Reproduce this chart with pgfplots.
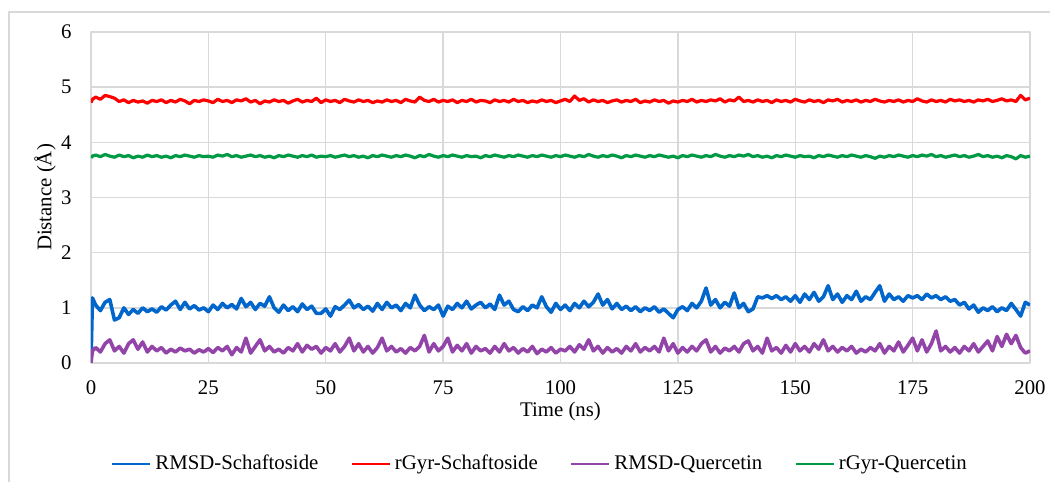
\documentclass[border=0pt]{standalone}
\usepackage{pgfplots}
\pgfplotsset{compat=1.18}
\usepackage{pgfplotstable}
\usepackage{fontspec}
\setmainfont{Liberation Serif}
\definecolor{cBlue}{RGB}{0,102,204}
\definecolor{cRed}{RGB}{255,0,0}
\definecolor{cPurple}{RGB}{146,68,168}
\definecolor{cGreen}{RGB}{0,153,68}
\definecolor{cGrid}{RGB}{217,217,217}
\pgfplotstableread{
t B R P G
0 0.00 4.72 0.00 3.72
0.3 1.18 4.78 0.22 3.75
1 1.05 4.82 0.28 3.77
2 0.95 4.78 0.20 3.74
3 1.10 4.85 0.35 3.78
4 1.15 4.83 0.42 3.75
5 0.78 4.80 0.22 3.73
6 0.82 4.74 0.30 3.77
7 1.00 4.77 0.18 3.74
8 0.88 4.72 0.35 3.76
9 0.97 4.76 0.42 3.72
10 0.90 4.73 0.25 3.75
11 1.00 4.75 0.38 3.73
12 0.93 4.71 0.20 3.77
13 0.98 4.76 0.30 3.74
14 0.92 4.74 0.22 3.76
15 1.02 4.77 0.28 3.73
16 0.96 4.72 0.18 3.75
17 1.05 4.76 0.25 3.72
18 1.12 4.73 0.20 3.76
19 0.97 4.78 0.27 3.74
20 1.10 4.75 0.22 3.77
21 0.98 4.70 0.25 3.75
22 1.04 4.76 0.18 3.73
23 0.96 4.74 0.24 3.76
24 1.00 4.77 0.20 3.74
25 0.93 4.75 0.26 3.75
26 1.05 4.72 0.19 3.73
27 0.97 4.78 0.28 3.77
28 1.08 4.74 0.22 3.75
29 1.00 4.76 0.30 3.78
30 1.06 4.72 0.15 3.74
31 0.98 4.77 0.28 3.76
32 1.17 4.75 0.20 3.73
33 1.02 4.79 0.45 3.75
34 1.10 4.73 0.18 3.77
35 0.97 4.76 0.30 3.74
36 1.08 4.70 0.42 3.76
37 1.03 4.75 0.22 3.73
38 1.20 4.73 0.30 3.75
39 1.00 4.77 0.20 3.72
40 0.92 4.74 0.25 3.76
41 1.05 4.76 0.18 3.74
42 0.95 4.71 0.28 3.77
43 1.02 4.75 0.22 3.75
44 0.93 4.78 0.35 3.73
45 1.07 4.73 0.20 3.76
46 0.97 4.76 0.32 3.74
47 1.03 4.74 0.25 3.77
48 0.90 4.80 0.30 3.73
49 0.90 4.72 0.18 3.75
50 0.98 4.77 0.28 3.74
51 0.85 4.74 0.22 3.76
52 1.02 4.76 0.35 3.73
53 0.97 4.72 0.20 3.75
54 1.05 4.78 0.30 3.77
55 1.14 4.75 0.45 3.74
56 1.00 4.73 0.22 3.76
57 1.06 4.77 0.35 3.73
58 0.97 4.74 0.20 3.75
59 1.03 4.76 0.30 3.72
60 0.94 4.72 0.18 3.76
61 1.08 4.75 0.28 3.74
62 0.97 4.73 0.45 3.77
63 1.10 4.77 0.22 3.75
64 1.00 4.74 0.30 3.73
65 1.05 4.76 0.20 3.76
66 0.95 4.72 0.26 3.74
67 1.08 4.78 0.18 3.77
68 1.00 4.75 0.28 3.75
69 1.23 4.73 0.22 3.72
70 1.05 4.82 0.30 3.76
71 0.95 4.76 0.50 3.74
72 1.02 4.74 0.20 3.78
73 0.97 4.78 0.35 3.75
74 1.05 4.73 0.22 3.73
75 0.85 4.76 0.30 3.76
76 1.03 4.74 0.45 3.74
77 0.97 4.77 0.20 3.77
78 1.08 4.72 0.32 3.75
79 1.00 4.76 0.22 3.73
80 1.12 4.74 0.35 3.76
81 0.98 4.78 0.18 3.74
82 1.05 4.73 0.30 3.75
83 1.10 4.76 0.22 3.72
84 1.00 4.75 0.26 3.76
85 1.07 4.72 0.18 3.74
86 0.97 4.77 0.30 3.77
87 1.23 4.74 0.20 3.75
88 1.05 4.76 0.35 3.73
89 1.12 4.73 0.22 3.76
90 0.97 4.78 0.28 3.74
91 0.93 4.74 0.18 3.77
92 1.02 4.76 0.26 3.75
93 0.95 4.72 0.20 3.73
94 1.05 4.75 0.30 3.76
95 1.00 4.73 0.17 3.74
96 1.20 4.77 0.25 3.77
97 1.02 4.74 0.20 3.75
98 0.92 4.76 0.28 3.73
99 1.08 4.72 0.18 3.76
100 0.97 4.75 0.25 3.74
101 1.05 4.78 0.22 3.77
102 0.95 4.74 0.30 3.75
103 1.08 4.84 0.20 3.73
104 1.00 4.76 0.33 3.76
105 1.12 4.79 0.25 3.74
106 1.02 4.73 0.42 3.78
107 1.10 4.77 0.22 3.75
108 1.25 4.74 0.30 3.73
109 1.05 4.76 0.18 3.76
110 1.15 4.72 0.28 3.74
111 0.98 4.75 0.20 3.77
112 1.08 4.77 0.26 3.75
113 0.97 4.73 0.18 3.72
114 1.03 4.76 0.30 3.76
115 0.95 4.74 0.22 3.74
116 1.02 4.78 0.35 3.77
117 0.93 4.72 0.20 3.75
118 1.00 4.75 0.28 3.73
119 0.95 4.73 0.22 3.76
120 1.02 4.77 0.30 3.74
121 0.92 4.74 0.20 3.77
122 0.98 4.76 0.45 3.75
123 0.90 4.71 0.22 3.73
124 0.82 4.75 0.35 3.75
125 0.97 4.73 0.18 3.72
126 1.02 4.76 0.28 3.76
127 0.95 4.74 0.20 3.74
128 1.08 4.78 0.30 3.77
129 1.00 4.73 0.22 3.75
130 1.12 4.76 0.35 3.73
131 1.36 4.74 0.42 3.76
132 1.05 4.77 0.20 3.74
133 1.15 4.75 0.30 3.78
134 1.00 4.79 0.18 3.75
135 1.10 4.73 0.27 3.73
136 1.03 4.77 0.22 3.76
137 1.27 4.75 0.30 3.74
138 1.00 4.82 0.20 3.77
139 1.08 4.74 0.35 3.75
140 0.93 4.76 0.40 3.78
141 0.98 4.73 0.22 3.74
142 1.20 4.77 0.30 3.76
143 1.18 4.74 0.18 3.73
144 1.22 4.76 0.45 3.75
145 1.17 4.72 0.22 3.72
146 1.22 4.77 0.28 3.76
147 1.15 4.74 0.18 3.74
148 1.20 4.76 0.32 3.77
149 1.12 4.73 0.20 3.75
150 1.22 4.78 0.35 3.73
151 1.10 4.75 0.22 3.76
152 1.25 4.73 0.30 3.74
153 1.15 4.77 0.20 3.75
154 1.28 4.74 0.35 3.72
155 1.12 4.76 0.25 3.76
156 1.20 4.72 0.42 3.74
157 1.40 4.77 0.22 3.77
158 1.15 4.75 0.30 3.75
159 1.25 4.78 0.20 3.73
160 1.10 4.73 0.28 3.76
161 1.22 4.76 0.22 3.74
162 1.15 4.74 0.30 3.77
163 1.30 4.77 0.18 3.75
164 1.12 4.73 0.25 3.73
165 1.20 4.76 0.20 3.76
166 1.15 4.74 0.28 3.74
167 1.28 4.78 0.22 3.71
168 1.40 4.75 0.35 3.75
169 1.12 4.73 0.18 3.73
170 1.25 4.76 0.30 3.76
171 1.15 4.74 0.22 3.74
172 1.20 4.77 0.38 3.77
173 1.12 4.73 0.20 3.75
174 1.22 4.76 0.32 3.73
175 1.18 4.74 0.45 3.76
176 1.22 4.79 0.22 3.74
177 1.15 4.75 0.42 3.77
178 1.25 4.73 0.20 3.75
179 1.18 4.77 0.35 3.78
180 1.22 4.74 0.58 3.74
181 1.15 4.76 0.22 3.76
182 1.20 4.73 0.30 3.73
183 1.12 4.78 0.20 3.75
184 1.15 4.75 0.28 3.77
185 1.05 4.77 0.18 3.74
186 1.10 4.74 0.30 3.76
187 0.98 4.76 0.22 3.73
188 1.05 4.73 0.35 3.75
189 0.92 4.77 0.20 3.78
190 1.00 4.75 0.30 3.74
191 0.95 4.78 0.40 3.76
192 1.02 4.74 0.22 3.73
193 0.93 4.76 0.48 3.75
194 1.00 4.79 0.30 3.72
195 0.95 4.75 0.52 3.76
196 1.08 4.77 0.35 3.74
197 0.97 4.74 0.50 3.70
198 0.85 4.85 0.28 3.76
199 1.10 4.77 0.18 3.73
200 1.05 4.80 0.22 3.75
}\datatable
\begin{document}
\fontsize{10.4pt}{12pt}\selectfont
\begin{tikzpicture}
\useasboundingbox (0,0) rectangle (525pt,241pt);
\draw[cGrid, line width=0.7pt] (4.5pt,-2pt) -- (4.5pt,235pt) -- (527pt,235pt);
\begin{axis}[
  at={(45.5pt,59.5pt)}, anchor=south west,
  scale only axis, width=469.5pt, height=165.5pt,
  xmin=0, xmax=200, ymin=0, ymax=6,
  xtick={0,25,...,200}, ytick={0,1,...,6},
  grid=major, major grid style={cGrid, line width=0.7pt},
  axis line style={cGrid, line width=0.7pt},
  major tick length=0pt,
  /pgf/number format/assume math mode=true,
  xticklabel style={anchor=north, inner sep=0pt, yshift=-8.5pt},
  yticklabel style={anchor=east, inner sep=0pt, xshift=-9.5pt},
  xlabel={Time (ns)},
  ylabel={Distance (Å)},
  xlabel style={at={(axis description cs:0.5,-0.148)}, anchor=center},
  ylabel style={at={(axis description cs:-0.049,0.5)}, anchor=center},
  legend columns=4,
  legend style={draw=none, fill=none, at={(axis description cs:0.479,-0.305)}, anchor=center,
    /tikz/every odd column/.append style={column sep=0pt},
    /tikz/every even column/.append style={column sep=14pt}},
  legend image code/.code={\draw[#1, line width=1.3pt] (0pt,0pt) -- (19pt,0pt);},
  line join=round,
]
\addplot[cBlue, line width=1.8pt] table[x=t, y=B] {\datatable};
\addlegendentry{RMSD-Schaftoside}
\addplot[cRed, line width=1.6pt] table[x=t, y=R] {\datatable};
\addlegendentry{rGyr-Schaftoside}
\addplot[cPurple, line width=1.8pt] table[x=t, y=P] {\datatable};
\addlegendentry{RMSD-Quercetin}
\addplot[cGreen, line width=1.6pt] table[x=t, y=G] {\datatable};
\addlegendentry{rGyr-Quercetin}
\end{axis}
\end{tikzpicture}
\end{document}
